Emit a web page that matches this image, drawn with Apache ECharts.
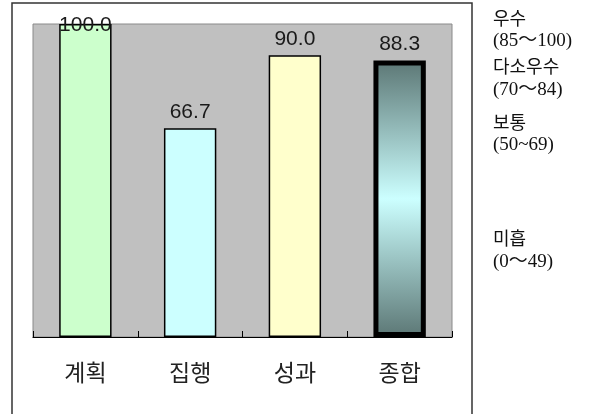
<!DOCTYPE html>
<html><head><meta charset="utf-8">
<script src="https://cdn.jsdelivr.net/npm/echarts@6/dist/echarts.min.js"></script>
<style>html,body{margin:0;padding:0;background:#fff}#c{width:590px;height:414px}</style>
</head><body><div id="c"></div>
<script>
const categories = ['계획', '집행', '성과', '종합'];
const values = [100.0, 66.7, 90.0, 88.3];
const legendLines = ['우수', '(85～100)', '다소우수', '(70～84)', '보통', '(50~69)', '미흡', '(0～49)'];
const yMin = 0, yMax = 100;

const fills = ['#ccffcc', '#ccffff', '#ffffcc', null];
const legendY = [21, 42, 69, 91, 125, 146, 241, 263];

const data = values.map((v, i) => {
  const item = { value: v, itemStyle: { borderColor: '#000', borderWidth: 1.5 } };
  if (fills[i]) item.itemStyle.color = fills[i];
  else {
    item.itemStyle.color = { type: 'linear', x: 0, y: 0, x2: 0, y2: 1, colorStops: [
      { offset: 0, color: '#5c7775' }, { offset: 0.5, color: '#ccffff' }, { offset: 1, color: '#5c7775' } ] };
    item.itemStyle.borderWidth = 5;
  }
  if (v >= yMax) item.label = { offset: [0, 18] };
  return item;
});

const chart = echarts.init(document.getElementById('c'));
chart.setOption({
  animation: false,
  grid: { left: 33, right: 138, top: 24, bottom: 77, show: true, backgroundColor: '#c0c0c0', borderColor: '#8a8a8a', borderWidth: 1 },
  xAxis: {
    type: 'category', data: categories, z: 5,
    axisLine: { lineStyle: { color: '#000', width: 1.2 } },
    axisTick: { show: true, inside: true, length: 6, lineStyle: { color: '#000', width: 1 } },
    axisLabel: { fontSize: 23, color: '#222', margin: 24, fontFamily: 'Noto Sans CJK KR' }
  },
  yAxis: { type: 'value', min: yMin, max: yMax, show: false, splitLine: { show: false } },
  series: [{
    type: 'bar', data: data, barWidth: '50%',
    label: { show: true, position: 'top', distance: 6, fontSize: 21, color: '#1a1a1a', fontFamily: 'Liberation Sans',
      formatter: p => p.value.toFixed(1) }
  }],
  graphic: [
    { type: 'rect', shape: { x: 12, y: 3, width: 460, height: 440 }, style: { fill: 'none', stroke: '#333', lineWidth: 1.5 }, z: 10 }
  ].concat(legendLines.map((t, i) => ({
    type: 'text', left: 493, top: legendY[i] - 10,
    style: { text: t, fontSize: i % 2 === 0 ? 18 : 19, fill: '#111', fontFamily: 'Liberation Serif, Noto Sans CJK KR' }
  })))
});
</script></body></html>
